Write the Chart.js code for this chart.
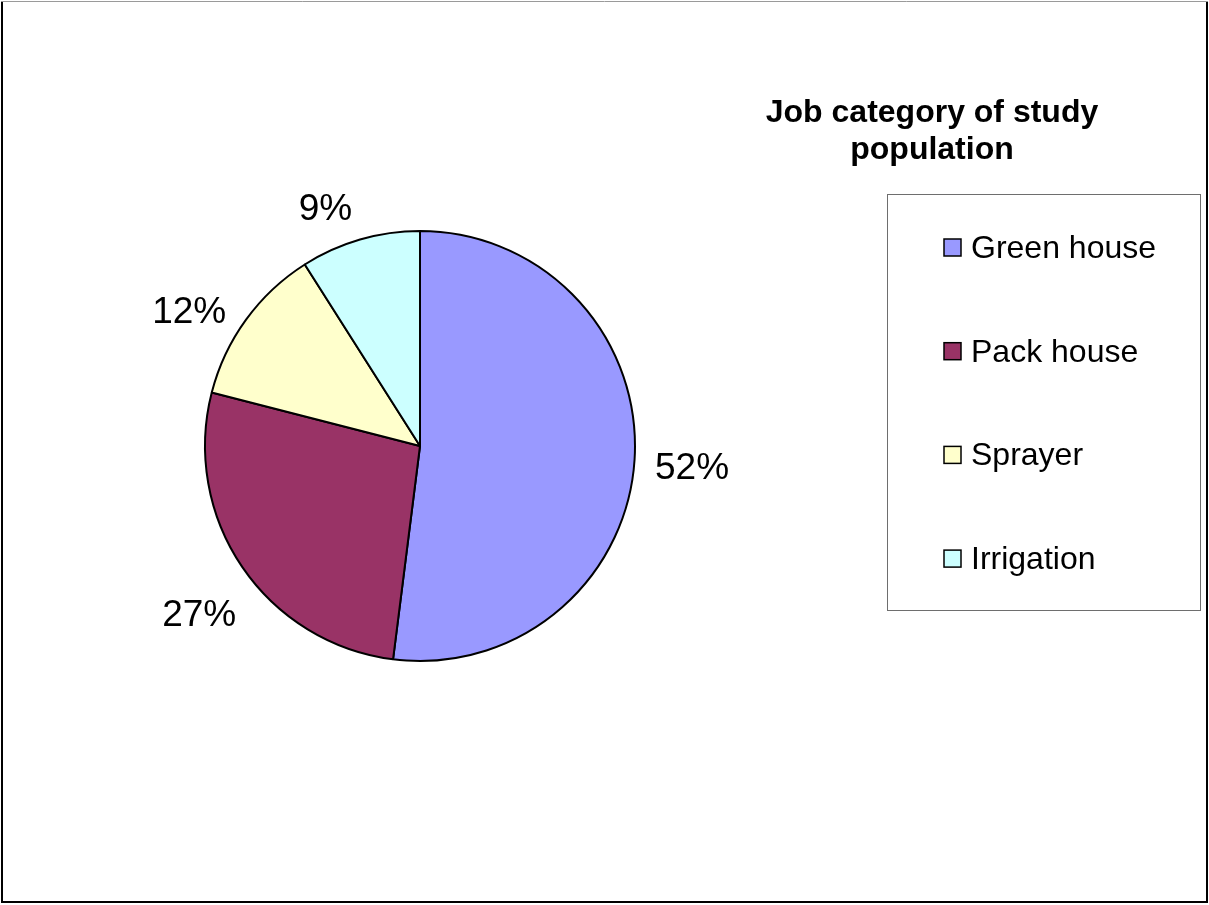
<!DOCTYPE html>
<html>
<head>
<meta charset="utf-8">
<title>Job category of study population</title>
<script src="https://cdn.jsdelivr.net/npm/chart.js@4.4.1/dist/chart.umd.min.js"></script>
<style>
  html, body { margin: 0; padding: 0; background: #ffffff; overflow: hidden; }
  #wrap { width: 1209px; height: 905px; position: relative; }
  canvas { display: block; }
</style>
</head>
<body>
<div id="wrap"><canvas id="chart" width="1209" height="905"></canvas></div>
<script>
// Job categories and their share of the study population (%)
const categories = ['Green house', 'Pack house', 'Sprayer', 'Irrigation'];
const shares = [52, 27, 12, 9];
const sliceColors = ['#9999FF', '#993366', '#FFFFCC', '#CCFFFF'];
const titleLines = ['Job category of study', 'population'];

const FONT = '"Liberation Sans", Arial, Helvetica, sans-serif';

// Outer frame around the whole chart
const framePlugin = {
  id: 'frame',
  afterDraw(chart) {
    const ctx = chart.ctx;
    const W = chart.width, H = chart.height;
    ctx.save();
    ctx.strokeStyle = '#000000';
    ctx.lineWidth = 2;
    ctx.beginPath();
    ctx.moveTo(2, 1); ctx.lineTo(2, H - 3);
    ctx.lineTo(W - 2, H - 3); ctx.lineTo(W - 2, 1);
    ctx.stroke();
    ctx.strokeStyle = '#9a9a9a';
    ctx.lineWidth = 1;
    ctx.beginPath();
    ctx.moveTo(1, 1.5); ctx.lineTo(W - 1, 1.5);
    ctx.stroke();
    ctx.restore();
  }
};

// Percentage labels placed just outside each slice
const sliceLabelPlugin = {
  id: 'sliceLabels',
  afterDatasetsDraw(chart) {
    const ctx = chart.ctx;
    const meta = chart.getDatasetMeta(0);
    const data = chart.data.datasets[0].data;
    ctx.save();
    ctx.font = '37px ' + FONT;
    ctx.fillStyle = '#000000';
    ctx.textAlign = 'center';
    ctx.textBaseline = 'middle';
    const h = 30;
    meta.data.forEach((arc, i) => {
      const p = arc.getProps(['x', 'y', 'startAngle', 'endAngle', 'outerRadius'], true);
      const mid = (p.startAngle + p.endAngle) / 2 - 0.05;
      const dx = Math.cos(mid), dy = Math.sin(mid);
      const text = data[i] + '%';
      const w = ctx.measureText(text).width;
      const ax = p.x + dx * (p.outerRadius + 20);
      const ay = p.y + dy * (p.outerRadius + 20);
      const cx = ax + dx * w / 2 + (Math.sign(dx) - dx) * w * 0.25;
      const cy = ay + dy * h / 2 + Math.sign(dy) * 8 + 4 + 6 * Math.abs(dx);
      ctx.fillText(text, cx, cy + 2);
    });
    ctx.restore();
  }
};

// Title and boxed legend on the right
const legendPlugin = {
  id: 'sideLegend',
  afterDraw(chart) {
    const ctx = chart.ctx;
    const labels = chart.data.labels;
    const colors = chart.data.datasets[0].backgroundColor;
    ctx.save();
    // title
    ctx.font = 'bold 32px ' + FONT;
    ctx.fillStyle = '#000000';
    ctx.textAlign = 'center';
    ctx.textBaseline = 'alphabetic';
    titleLines.forEach((line, i) => ctx.fillText(line, 932, 122 + i * 37));
    // legend frame
    ctx.strokeStyle = '#6e6e6e';
    ctx.lineWidth = 1;
    ctx.strokeRect(887.5, 194.5, 313, 416);
    // entries
    ctx.font = '32px ' + FONT;
    ctx.textAlign = 'left';
    ctx.textBaseline = 'middle';
    labels.forEach((label, i) => {
      const cy = 248 + i * 103.7;
      ctx.fillStyle = colors[i];
      ctx.fillRect(944, cy - 9, 17, 17);
      ctx.strokeStyle = '#000000';
      ctx.lineWidth = 1.5;
      ctx.strokeRect(944, cy - 9, 17, 17);
      ctx.fillStyle = '#000000';
      ctx.fillText(label, 971, cy + 1);
    });
    ctx.restore();
  }
};

new Chart(document.getElementById('chart'), {
  type: 'pie',
  data: {
    labels: categories,
    datasets: [{
      data: shares,
      backgroundColor: sliceColors,
      borderColor: '#000000',
      borderWidth: 2,
      radius: 215
    }]
  },
  options: {
    responsive: false,
    animation: false,
    events: [],
    layout: { padding: { left: 205, right: 574, top: 231, bottom: 244 } },
    plugins: {
      legend: { display: false },
      title: { display: false },
      tooltip: { enabled: false }
    }
  },
  plugins: [sliceLabelPlugin, legendPlugin, framePlugin]
});
</script>
</body>
</html>
